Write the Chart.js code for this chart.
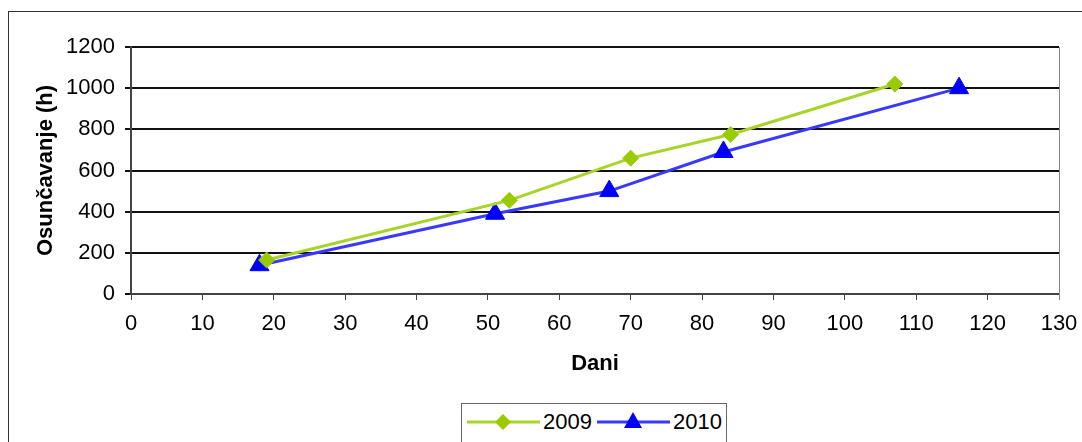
<!DOCTYPE html>
<html><head><meta charset="utf-8">
<script src="https://cdn.jsdelivr.net/npm/chart.js@4/dist/chart.umd.min.js"></script>
<style>
html,body{margin:0;padding:0;background:#fff;overflow:hidden;width:1082px;height:442px;}
#wrap{position:relative;width:1082px;height:442px;}
#frame{position:absolute;left:8px;top:11px;width:1100px;height:500px;border:1px solid #333;box-sizing:border-box;pointer-events:none}
#c{position:absolute;left:0;top:0}
#legend{position:absolute;left:461px;top:403px;width:266px;height:60px;border:1px solid #666;box-sizing:border-box;background:#fff;font:22px 'Liberation Sans',Arial,sans-serif;color:#000}
.item{position:absolute;top:4px;height:28px;display:flex;align-items:center}
.item svg{display:block}
.item span{margin-left:3px;line-height:28px}
</style></head>
<body><div id="wrap"><canvas id="c" width="1082" height="442"></canvas><div id="frame"></div><div id="legend"></div></div>
<script>
const seriesNames = ['2009', '2010'];
const days2009 = [19, 53, 70, 84, 107];
const hours2009 = [165, 455, 660, 775, 1020];
const days2010 = [18, 51, 67, 83, 116];
const hours2010 = [140, 390, 500, 690, 1000];
const xTitle = 'Dani';
const yTitle = 'Osunčavanje (h)';
const xMin = 0, xMax = 130, xStep = 10;
const yMin = 0, yMax = 1200, yStep = 200;

const FONT = "'Liberation Sans', Arial, sans-serif";
const FS = 22;
const greenLine = '#a8d42a', greenMark = '#99cc00';
const blueLine = '#3838ff', blueMark = '#0000ff';

function pts(xs, ys){ return xs.map((x,i)=>({x:x, y:ys[i]})); }

const rightBorder = {
  id:'rightBorder',
  afterDraw(chart){
    const a = chart.chartArea, ctx = chart.ctx;
    ctx.save();
    ctx.strokeStyle = '#888';
    ctx.lineWidth = 1;
    ctx.beginPath();
    ctx.moveTo(a.right + 0.5, a.top);
    ctx.lineTo(a.right + 0.5, a.bottom + 6);
    ctx.stroke();
    ctx.restore();
  }
};

new Chart(document.getElementById('c'), {
  type: 'scatter',
  data: {
    datasets: [
      { label: seriesNames[0], data: pts(days2009, hours2009), showLine: true,
        borderColor: greenLine, borderWidth: 3, backgroundColor: greenMark,
        pointStyle: 'rectRot', pointRadius: 8, pointBorderColor: greenMark, pointBorderWidth: 1, tension: 0 },
      { label: seriesNames[1], data: pts(days2010, hours2010), showLine: true,
        borderColor: blueLine, borderWidth: 3, backgroundColor: blueMark,
        pointStyle: 'triangle', pointRadius: 11, pointBorderColor: blueMark, pointBorderWidth: 1, tension: 0 }
    ]
  },
  options: {
    responsive: false,
    animation: false,
    events: [],
    layout: { padding: { left: 0, right: 23, top: 47, bottom: 0 } },
    plugins: { legend: { display: false }, tooltip: { enabled: false } },
    scales: {
      x: {
        type: 'linear', min: xMin, max: xMax,
        ticks: { stepSize: xStep, color: '#000', font: { family: FONT, size: FS }, padding: 11, maxRotation: 0, callback: v => String(v) },
        grid: { drawOnChartArea: false, drawTicks: true, tickLength: 6, color: '#444', lineWidth: 1 },
        border: { display: true, color: '#444', width: 2 },
        title: { display: true, text: xTitle, color: '#000', font: { family: FONT, size: FS, weight: 'bold' }, padding: { top: 0, bottom: 65 } },
        afterFit(s){ s.height = 148; s.paddingLeft = 0; s.paddingRight = 0; }
      },
      y: {
        type: 'linear', min: yMin, max: yMax,
        ticks: { stepSize: yStep, color: '#000', font: { family: FONT, size: FS }, padding: 10, callback: v => String(v) },
        grid: { drawOnChartArea: true, drawTicks: true, tickLength: 6, color: '#111', lineWidth: 2 },
        border: { display: true, color: '#444', width: 2 },
        title: { display: true, text: yTitle, color: '#000', font: { family: FONT, size: FS, weight: 'bold' }, padding: { top: 33, bottom: 0 } },
        afterFit(s){ s.width = 131; s.paddingTop = 0; s.paddingBottom = 0; }
      }
    }
  },
  plugins: [rightBorder]
});

// HTML legend built from the series names
const legend = document.getElementById('legend');
const legendDefs = [
  { name: seriesNames[0], line: greenLine, mark: greenMark, shape: 'diamond', left: 5 },
  { name: seriesNames[1], line: blueLine, mark: blueMark, shape: 'triangle', left: 135 }
];
legendDefs.forEach(d => {
  const div = document.createElement('div');
  div.className = 'item';
  div.style.left = d.left + 'px';
  const marker = d.shape === 'diamond'
    ? `<polygon points="36,4 44,12 36,20 28,12" fill="${d.mark}"/>`
    : `<polygon points="36,2 45,18 27,18" fill="${d.mark}"/>`;
  div.innerHTML = `<svg width="73" height="24" viewBox="0 0 73 24"><line x1="0" y1="12" x2="73" y2="12" stroke="${d.line}" stroke-width="3"/>${marker}</svg><span>${d.name}</span>`;
  legend.appendChild(div);
});
</script>
</body></html>
